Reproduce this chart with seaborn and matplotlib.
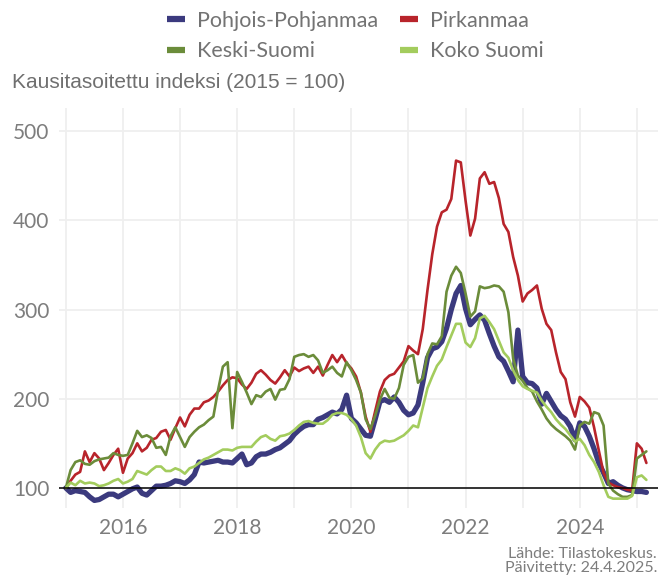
import numpy as np
import pandas as pd
import matplotlib
matplotlib.use('Agg')
import matplotlib.pyplot as plt
from matplotlib.lines import Line2D
import seaborn as sns

# Monthly index values, Jan 2015 - Mar 2025 (2015 = 100)
pohjois_pohjanmaa = [
    100, 95, 97, 96, 95, 90, 86, 87, 90, 93, 93, 90,
    93, 96, 99, 101, 94, 92, 97, 102, 102, 103, 105, 108,
    107, 105, 109, 115, 129, 128, 129, 130, 131, 129, 129, 128,
    133, 138, 126, 128, 135, 138, 138, 140, 143, 145, 149, 153,
    160, 165, 169, 171, 171, 177, 179, 182, 185, 183, 188, 204,
    178, 173, 166, 159, 158, 177, 197, 199, 196, 202, 196, 187,
    182, 184, 193, 218, 246, 256, 258, 264, 279, 300, 318, 327,
    301, 283, 289, 294, 288, 273, 259, 247, 242, 231, 219, 277,
    225, 218, 217, 212, 194, 206, 197, 188, 181, 177, 169, 154,
    173, 169, 158, 144, 128, 117, 105, 107, 103, 100, 98, 97,
    96, 96, 95,
]
pirkanmaa = [
    100, 108, 115, 118, 141, 129, 139, 133, 120, 128, 137, 144,
    117, 133, 139, 150, 141, 145, 154, 156, 163, 165, 154, 167,
    179, 169, 182, 189, 189, 196, 198, 202, 208, 215, 221, 224,
    223, 216, 211, 218, 228, 232, 227, 221, 217, 224, 232, 225,
    235, 231, 234, 236, 229, 236, 226, 238, 249, 241, 249, 240,
    234, 225, 207, 180, 163, 186, 208, 221, 226, 228, 235, 242,
    259, 254, 250, 278, 322, 362, 393, 409, 412, 424, 467, 465,
    422, 383, 402, 447, 454, 441, 443, 425, 396, 387, 359, 338,
    309, 318, 322, 327, 301, 284, 277, 252, 230, 222, 196, 180,
    202, 197, 190, 168, 142, 117, 106, 103, 101, 100, 98, 97,
    150, 144, 128,
]
keski_suomi = [
    100, 120, 129, 131, 127, 126, 130, 132, 133, 134, 139, 137,
    136, 137, 150, 164, 157, 159, 156, 145, 146, 137, 158, 168,
    157, 146, 157, 163, 168, 171, 176, 180, 210, 236, 241, 167,
    230, 219, 207, 194, 204, 202, 208, 211, 199, 210, 211, 222,
    247, 249, 250, 247, 249, 243, 229, 232, 236, 229, 225, 241,
    232, 221, 207, 177, 166, 181, 199, 211, 201, 200, 212, 238,
    247, 249, 218, 223, 250, 262, 261, 270, 320, 338, 348, 341,
    318, 292, 298, 326, 324, 325, 327, 326, 320, 297, 245, 226,
    220, 212, 208, 197, 188, 178, 171, 166, 162, 158, 153, 143,
    170, 174, 172, 185, 183, 170, 105, 97, 93, 90, 90, 92,
    133, 137, 141,
]
koko_suomi = [
    100, 106, 103, 108, 105, 106, 105, 102, 103, 105, 108, 110,
    105, 107, 110, 119, 117, 115, 120, 124, 124, 119, 119, 122,
    120, 116, 122, 124, 128, 132, 134, 137, 140, 143, 143, 142,
    145, 146, 146, 146, 152, 157, 159, 155, 153, 158, 159, 161,
    165, 170, 174, 175, 173, 172, 172, 176, 182, 184, 184, 182,
    177, 170, 157, 139, 133, 143, 150, 153, 152, 153, 156, 159,
    164, 170, 168, 190, 212, 225, 237, 244, 258, 271, 284, 284,
    263, 258, 268, 290, 293, 286, 278, 265, 252, 246, 232, 221,
    214, 211, 209, 207, 198, 191, 185, 177, 171, 166, 159, 152,
    155, 148, 137, 129, 118, 103, 90, 88, 88, 88, 88, 91,
    112, 114, 109,
]

series_names = ['Pohjois-Pohjanmaa', 'Pirkanmaa', 'Keski-Suomi', 'Koko Suomi']
colors = {'Pohjois-Pohjanmaa': '#3b3a7e', 'Pirkanmaa': '#b8242b',
          'Keski-Suomi': '#6b8c3a', 'Koko Suomi': '#a3cc5d'}
widths = {'Pohjois-Pohjanmaa': 3.8, 'Pirkanmaa': 1.9,
          'Keski-Suomi': 1.9, 'Koko Suomi': 1.9}

n = len(pohjois_pohjanmaa)
years = 2015 + np.arange(n) / 12

df = pd.DataFrame({
    'aika': years,
    'Pohjois-Pohjanmaa': pohjois_pohjanmaa,
    'Pirkanmaa': pirkanmaa,
    'Keski-Suomi': keski_suomi,
    'Koko Suomi': koko_suomi,
})
long = df.melt(id_vars='aika', var_name='alue', value_name='indeksi')

sns.set_theme(style='white')
plt.rcParams['font.family'] = ['Lato', 'DejaVu Sans']

fig = plt.figure(figsize=(6.72, 5.78), dpi=100)
ax = fig.add_axes([59 / 672, 1 - 508 / 578, (658 - 59) / 672, (508 - 108) / 578])

sns.lineplot(data=long, x='aika', y='indeksi', hue='alue', size='alue',
             hue_order=series_names, size_order=series_names,
             palette=colors, sizes=widths, legend=False, ax=ax, zorder=3)

ax.axhline(100, color='black', lw=1.1, zorder=5)

ax.set_xlim(2014.88, 2025.37)
ax.set_ylim(77.5, 526)
ax.set_xticks([2016, 2018, 2020, 2022, 2024])
ax.set_xticks(np.arange(2015, 2026, 1), minor=True)
ax.set_yticks([100, 200, 300, 400, 500])
ax.grid(True, which='both', axis='x', color='#efefef', lw=1.3)
ax.grid(True, which='major', axis='y', color='#efefef', lw=1.3)
ax.set_axisbelow(True)
for s in ax.spines.values():
    s.set_visible(False)
ax.tick_params(axis='both', which='both', length=0, labelsize=15,
               labelcolor='#7d7d7d')
ax.tick_params(axis='y', pad=7)
ax.tick_params(axis='x', pad=7)
ax.set_xlabel('')
ax.set_ylabel('')

order = ['Pohjois-Pohjanmaa', 'Keski-Suomi', 'Pirkanmaa', 'Koko Suomi']
handles = [Line2D([], [], color=colors[k], lw=4.5, solid_capstyle='butt') for k in order]
fig.legend(handles, order, ncol=2, loc='center', bbox_to_anchor=(0.529, 1 - 36 / 578),
           frameon=False, fontsize=15.5, labelcolor='#737373',
           handlelength=0.85, handletextpad=0.55, columnspacing=1.0, labelspacing=0.5)

fig.text(12 / 672, 1 - 82 / 578, 'Kausitasoitettu indeksi (2015 = 100)',
         ha='left', va='center', fontsize=15, color='#6f6f6f',
         family=['Liberation Sans', 'DejaVu Sans'])

fig.text(657 / 672, 1 - 561 / 578, 'Lähde: Tilastokeskus.\nPäivitetty: 24.4.2025.',
         ha='right', va='center', fontsize=11.5, color='#7d7d7d',
         multialignment='right', linespacing=1.0)

fig.savefig('out.png', dpi=100)
